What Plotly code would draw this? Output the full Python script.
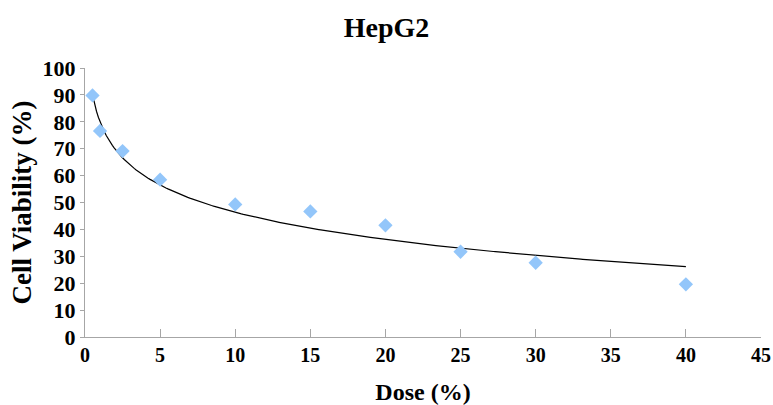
import numpy as np
import plotly.graph_objects as go

dose = [0.5, 1, 2.5, 5, 10, 15, 20, 25, 30, 40]
viability = [89.8, 76.6, 69.1, 58.5, 49.3, 46.7, 41.5, 31.7, 27.6, 19.6]

# logarithmic trendline coefficients (y = a + b*ln(x))
trend_a = 80.0
trend_b = -14.6

x_ticks = [0, 5, 10, 15, 20, 25, 30, 35, 40, 45]
y_ticks = [0, 10, 20, 30, 40, 50, 60, 70, 80, 90, 100]

tx = np.linspace(min(dose), max(dose), 300)
ty = trend_a + trend_b * np.log(tx)

font = "Liberation Serif"

fig = go.Figure()
fig.add_trace(go.Scatter(x=tx, y=ty, mode="lines",
                         line=dict(color="black", width=1.2), showlegend=False, hoverinfo="skip"))
fig.add_trace(go.Scatter(x=dose, y=viability, mode="markers",
                         marker=dict(symbol="diamond", size=11, color="#93C6FA"),
                         showlegend=False))

fig.update_layout(
    width=773, height=405,
    margin=dict(l=85, r=12, t=68, b=68, autoexpand=False),
    paper_bgcolor="white", plot_bgcolor="white",
    title=dict(text="<b>HepG2</b>", x=0.5, xanchor="center", xref="container",
               y=0.933, yanchor="middle", yref="container",
               font=dict(family=font, size=28, color="black")),
    font=dict(family=font, color="black"),
)
fig.update_xaxes(
    range=[0, 45], tickvals=x_ticks, ticktext=[f"<b>{v}</b>" for v in x_ticks],
    showgrid=False, zeroline=False, showline=True, linecolor="#A6A6A6", linewidth=1,
    ticks="inside", ticklen=8, tickcolor="#A6A6A6", automargin=False,
    tickfont=dict(family=font, size=20, color="black"),
    title=dict(text="<b>Dose (%)</b>", font=dict(family=font, size=24, color="black"), standoff=24),
)
fig.update_yaxes(
    range=[0, 100], tickvals=y_ticks, ticktext=[f"<b>{v}</b>" for v in y_ticks],
    showgrid=False, zeroline=False, showline=True, linecolor="#A6A6A6", linewidth=1,
    ticks="outside", ticklen=4, tickcolor="#A6A6A6", automargin=False,
    tickfont=dict(family=font, size=22, color="black"),
    title=dict(text="<b>Cell Viability (%)</b>", font=dict(family=font, size=27, color="black"), standoff=3),
)

fig.write_html("out.html", config={"displayModeBar": False},
               post_script="document.body.style.margin='0';document.body.style.overflow='hidden';")
